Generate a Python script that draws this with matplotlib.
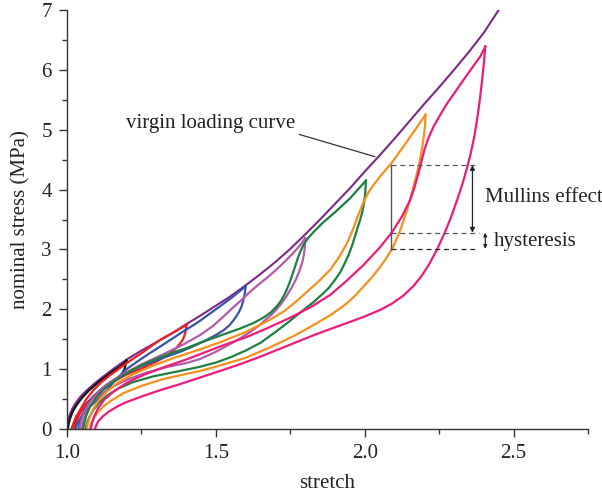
import matplotlib.pyplot as plt
from matplotlib.ticker import MultipleLocator

plt.rcParams['font.family'] = ['Liberation Serif', 'DejaVu Serif']
plt.rcParams['font.size'] = 15

# virgin loading curve
virgin_x = [1.000, 1.002, 1.005, 1.01, 1.018, 1.03, 1.045, 1.065, 1.09, 1.12, 1.16, 1.20, 1.25,
            1.30, 1.35, 1.40, 1.45, 1.50, 1.55, 1.60, 1.65, 1.70, 1.75, 1.80, 1.85, 1.90,
            1.95, 2.00, 2.05, 2.10, 2.15, 2.20, 2.25, 2.30, 2.35, 2.40, 2.45]
virgin_y = [0.00, 0.08, 0.16, 0.25, 0.34, 0.44, 0.54, 0.64, 0.75, 0.87, 1.02, 1.16, 1.31,
            1.45, 1.59, 1.75, 1.90, 2.06, 2.22, 2.40, 2.59, 2.79, 3.01, 3.25, 3.50, 3.76,
            4.02, 4.30, 4.57, 4.85, 5.14, 5.43, 5.71, 6.00, 6.30, 6.62, 7.00]

# cycle 1.2 (black): loading branch, unloading branch
black_up_x = [1.003, 1.006, 1.012, 1.02, 1.032, 1.05, 1.075, 1.11, 1.15, 1.18, 1.20]
black_up_y = [0.00, 0.10, 0.20, 0.30, 0.40, 0.52, 0.65, 0.80, 0.95, 1.05, 1.14]
black_lo_x = [1.015, 1.022, 1.032, 1.045, 1.065, 1.09, 1.12, 1.15, 1.17, 1.183, 1.193, 1.20]
black_lo_y = [0.00, 0.08, 0.18, 0.30, 0.42, 0.55, 0.67, 0.77, 0.84, 0.90, 1.00, 1.14]

# cycle 1.4 (red)
red_up_x = [1.017, 1.022, 1.03, 1.044, 1.065, 1.089, 1.115, 1.145, 1.17, 1.20, 1.257, 1.313, 1.36, 1.402]
red_up_y = [0.00, 0.10, 0.20, 0.32, 0.50, 0.65, 0.78, 0.90, 0.99, 1.10, 1.29, 1.49, 1.62, 1.74]
red_lo_x = [1.025, 1.029, 1.036, 1.048, 1.065, 1.09, 1.12, 1.16, 1.20, 1.25, 1.29, 1.32, 1.346,
            1.365, 1.38, 1.39, 1.397, 1.402]
red_lo_y = [0.00, 0.08, 0.18, 0.30, 0.42, 0.55, 0.68, 0.80, 0.91, 1.01, 1.10, 1.18, 1.26,
            1.34, 1.43, 1.50, 1.60, 1.74]

# cycle 1.6 (blue)
blue_up_x = [1.028, 1.032, 1.04, 1.055, 1.077, 1.10, 1.133, 1.165, 1.20, 1.24, 1.279, 1.32, 1.357,
             1.40, 1.436, 1.475, 1.514, 1.555, 1.599]
blue_up_y = [0.00, 0.06, 0.14, 0.25, 0.37, 0.48, 0.65, 0.83, 1.00, 1.14, 1.27, 1.40, 1.52,
             1.66, 1.77, 1.91, 2.05, 2.20, 2.38]
blue_lo_x = [1.038, 1.042, 1.05, 1.062, 1.08, 1.10, 1.13, 1.17, 1.22, 1.28, 1.34, 1.38, 1.414,
             1.44, 1.47, 1.50, 1.526, 1.545, 1.56, 1.575, 1.585, 1.592, 1.597, 1.60]
blue_lo_y = [0.00, 0.10, 0.22, 0.35, 0.49, 0.60, 0.73, 0.86, 0.99, 1.11, 1.22, 1.29, 1.36,
             1.42, 1.49, 1.57, 1.65, 1.73, 1.82, 1.93, 2.03, 2.14, 2.26, 2.38]

# cycle 1.8 (orchid)
orchid_up_x = [1.042, 1.046, 1.054, 1.067, 1.086, 1.11, 1.145, 1.19, 1.25, 1.32, 1.39, 1.447,
               1.49, 1.53, 1.56, 1.585, 1.61, 1.64, 1.68, 1.72, 1.76, 1.785, 1.80]
orchid_up_y = [0.00, 0.10, 0.23, 0.37, 0.51, 0.64, 0.78, 0.92, 1.08, 1.24, 1.41, 1.57,
               1.72, 1.90, 2.04, 2.15, 2.27, 2.40, 2.56, 2.74, 2.94, 3.08, 3.19]
orchid_lo_x = [1.05, 1.054, 1.062, 1.075, 1.095, 1.12, 1.155, 1.20, 1.26, 1.33, 1.40, 1.447,
               1.50, 1.537, 1.58, 1.615, 1.645, 1.671, 1.695, 1.716, 1.735, 1.752, 1.768,
               1.78, 1.79, 1.796, 1.799, 1.80]
orchid_lo_y = [0.00, 0.10, 0.23, 0.36, 0.49, 0.60, 0.71, 0.82, 0.93, 1.03, 1.10, 1.17,
               1.29, 1.39, 1.51, 1.62, 1.73, 1.84, 1.95, 2.07, 2.20, 2.34, 2.49,
               2.63, 2.78, 2.92, 3.05, 3.19]

# cycle 2.0 (green)
green_up_x = [1.054, 1.058, 1.065, 1.078, 1.097, 1.122, 1.16, 1.21, 1.27, 1.34, 1.40, 1.447, 1.52,
              1.582, 1.626, 1.66, 1.685, 1.705, 1.72, 1.733, 1.745, 1.755, 1.765, 1.775,
              1.785, 1.796, 1.81, 1.83, 1.86, 1.90, 1.95, 2.004]
green_up_y = [0.00, 0.10, 0.23, 0.38, 0.52, 0.66, 0.81, 0.96, 1.11, 1.25, 1.35, 1.44, 1.57,
              1.68, 1.77, 1.86, 1.95, 2.05, 2.15, 2.27, 2.41, 2.55, 2.70, 2.85,
              2.98, 3.09, 3.19, 3.30, 3.45, 3.62, 3.85, 4.15]
green_lo_x = [1.062, 1.067, 1.075, 1.09, 1.11, 1.135, 1.17, 1.22, 1.29, 1.37, 1.447, 1.50, 1.55,
              1.60, 1.65, 1.70, 1.716, 1.745, 1.772, 1.80, 1.828, 1.855, 1.88, 1.90, 1.918,
              1.932, 1.946, 1.958, 1.968, 1.976, 1.985, 1.992, 1.998, 2.002, 2.004]
green_lo_y = [0.00, 0.10, 0.20, 0.33, 0.45, 0.56, 0.67, 0.78, 0.88, 0.96, 1.04, 1.11, 1.20,
              1.31, 1.44, 1.62, 1.68, 1.79, 1.90, 2.01, 2.12, 2.24, 2.36, 2.49, 2.62,
              2.76, 2.91, 3.07, 3.23, 3.36, 3.50, 3.63, 3.78, 3.95, 4.15]

# cycle 2.2 (orange)
orange_up_x = [1.066, 1.07, 1.078, 1.09, 1.11, 1.135, 1.17, 1.22, 1.28, 1.36, 1.447, 1.52, 1.60,
               1.68, 1.73, 1.772, 1.81, 1.85, 1.884, 1.915, 1.94, 1.96, 1.978, 1.995, 2.012,
               2.03, 2.055, 2.088, 2.12, 2.164, 2.204]
orange_up_y = [0.00, 0.10, 0.22, 0.35, 0.50, 0.63, 0.77, 0.91, 1.04, 1.19, 1.33, 1.46, 1.62,
               1.82, 1.97, 2.14, 2.31, 2.49, 2.66, 2.88, 3.10, 3.33, 3.57, 3.78, 3.95,
               4.08, 4.24, 4.43, 4.65, 4.96, 5.25]
orange_lo_x = [1.075, 1.08, 1.09, 1.105, 1.125, 1.15, 1.19, 1.25, 1.32, 1.40, 1.447, 1.52, 1.60,
               1.68, 1.76, 1.84, 1.884, 1.91, 1.94, 1.968, 1.996, 2.025, 2.052, 2.072, 2.092,
               2.106, 2.12, 2.131, 2.142, 2.154, 2.164, 2.173, 2.181, 2.187, 2.192, 2.196,
               2.20, 2.203, 2.204]
orange_lo_y = [0.00, 0.08, 0.18, 0.29, 0.39, 0.48, 0.60, 0.72, 0.83, 0.92, 0.97, 1.07, 1.19,
               1.36, 1.55, 1.77, 1.90, 1.99, 2.10, 2.23, 2.38, 2.54, 2.71, 2.85, 3.01,
               3.16, 3.33, 3.49, 3.66, 3.86, 4.05, 4.22, 4.39, 4.53, 4.67, 4.80,
               4.94, 5.08, 5.25]

# cycle 2.4 (pink)
pink_up_x = [1.08, 1.084, 1.092, 1.105, 1.125, 1.155, 1.20, 1.26, 1.33, 1.40, 1.447, 1.52, 1.60,
             1.671, 1.75, 1.82, 1.884, 1.94, 1.996, 2.052, 2.092, 2.125, 2.153, 2.168, 2.181,
             2.191, 2.201, 2.214, 2.232, 2.255, 2.277, 2.305, 2.333, 2.36, 2.389, 2.405]
pink_up_y = [0.00, 0.10, 0.22, 0.35, 0.49, 0.62, 0.77, 0.91, 1.04, 1.16, 1.25, 1.39, 1.53,
             1.68, 1.86, 2.04, 2.24, 2.48, 2.74, 3.04, 3.29, 3.55, 3.83, 4.05, 4.28,
             4.48, 4.67, 4.86, 5.06, 5.26, 5.44, 5.64, 5.84, 6.03, 6.23, 6.39]
pink_lo_x = [1.094, 1.098, 1.105, 1.12, 1.14, 1.17, 1.20, 1.26, 1.32, 1.38, 1.447, 1.52, 1.58,
             1.65, 1.72, 1.78, 1.83, 1.884, 1.94, 2.00, 2.052, 2.09, 2.13, 2.164, 2.19, 2.215,
             2.243, 2.268, 2.29, 2.31, 2.328, 2.343, 2.356, 2.367, 2.376, 2.384, 2.391, 2.397,
             2.401, 2.405]
pink_lo_y = [0.00, 0.06, 0.13, 0.21, 0.29, 0.38, 0.45, 0.56, 0.66, 0.75, 0.86, 0.98, 1.08,
             1.21, 1.35, 1.47, 1.57, 1.67, 1.77, 1.88, 1.99, 2.09, 2.23, 2.39, 2.55, 2.74,
             3.00, 3.27, 3.54, 3.82, 4.09, 4.35, 4.60, 4.86, 5.12, 5.40, 5.68, 5.95,
             6.15, 6.39]

cycles = [
    ('#151515', black_up_x, black_up_y, black_lo_x, black_lo_y),
    ('#ED2024', red_up_x, red_up_y, red_lo_x, red_lo_y),
    ('#3953A4', blue_up_x, blue_up_y, blue_lo_x, blue_lo_y),
    ('#B35AAB', orchid_up_x, orchid_up_y, orchid_lo_x, orchid_lo_y),
    ('#1D8040', green_up_x, green_up_y, green_lo_x, green_lo_y),
    ('#F7901E', orange_up_x, orange_up_y, orange_lo_x, orange_lo_y),
    ('#EC1C7B', pink_up_x, pink_up_y, pink_lo_x, pink_lo_y),
]

fig = plt.figure(figsize=(6.02, 5.0), dpi=100)
ax = fig.add_axes([0.1113, 0.142, 0.8654, 0.838])

ax.plot(virgin_x, virgin_y, color='#7B2A86', lw=1.5, solid_joinstyle='round')
for col, ux, uy, lx, ly in cycles:
    ax.plot(ux, uy, color=col, lw=1.6, solid_joinstyle='round')
    ax.plot(lx, ly, color=col, lw=1.6, solid_joinstyle='round')

# annotations
txt = '#222222'
ax.plot([1.781, 2.034], [4.92, 4.55], color='#333333', lw=0.9)
ax.text(1.481, 5.10, 'virgin loading curve', ha='center', va='center', color=txt)

ax.plot([2.088, 2.088], [3.01, 4.41], color='#555555', lw=1.0)
ax.plot([2.088, 2.382], [4.41, 4.41], color='#555555', lw=0.9, ls=(0, (4, 3)))
ax.plot([2.088, 2.385], [3.28, 3.28], color='#555555', lw=0.9, ls=(0, (4, 3)))
ax.plot([2.088, 2.382], [3.01, 3.01], color='#222222', lw=0.9, ls=(0, (4, 3)))
ax.annotate('', xy=(2.362, 4.41), xytext=(2.362, 3.28),
            arrowprops=dict(arrowstyle='<|-|>', color='#222222', lw=0.9,
                            mutation_scale=7, shrinkA=0, shrinkB=0))
ax.annotate('', xy=(2.405, 3.28), xytext=(2.405, 3.01),
            arrowprops=dict(arrowstyle='<|-|>', color='#222222', lw=0.9,
                            mutation_scale=5, shrinkA=0, shrinkB=0))
ax.text(2.405, 3.86, 'Mullins effect', ha='left', va='center', color=txt)
ax.text(2.432, 3.13, 'hysteresis', ha='left', va='center', color=txt)

ax.set_xlim(1.0, 2.75)
ax.set_ylim(0, 7)
ax.xaxis.set_major_locator(MultipleLocator(0.5))
ax.xaxis.set_minor_locator(MultipleLocator(0.25))
ax.yaxis.set_major_locator(MultipleLocator(1))
ax.yaxis.set_minor_locator(MultipleLocator(0.5))
ax.set_xticks([1.0, 1.5, 2.0, 2.5])
ax.set_xticklabels(['1.0', '1.5', '2.0', '2.5'])
ax.spines['top'].set_visible(False)
ax.spines['right'].set_visible(False)
for s in ['left', 'bottom']:
    ax.spines[s].set_color('#333333')
    ax.spines[s].set_linewidth(1.0)
ax.tick_params(which='major', direction='out', length=6, width=1.0, color='#333333',
               labelcolor=txt, pad=5)
ax.tick_params(which='minor', direction='out', length=3.5, width=1.0, color='#333333')

ax.set_xlabel('stretch', color=txt, labelpad=8)
ax.set_ylabel('nominal stress (MPa)', color=txt, labelpad=8)

fig.savefig('out.png', dpi=100)
